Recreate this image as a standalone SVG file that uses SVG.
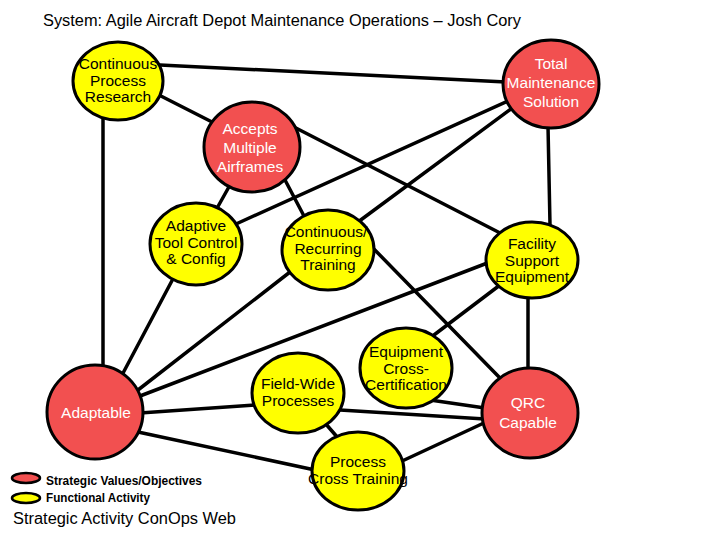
<svg xmlns="http://www.w3.org/2000/svg" width="720" height="540" viewBox="0 0 720 540">
<style>
.edge{stroke:#000;stroke-width:3.5;fill:none;stroke-linecap:round}
.red{fill:#F25050;stroke:#000;stroke-width:3}
.yel{fill:#FFFF00;stroke:#000;stroke-width:3}
.tr{font-family:"Liberation Sans",Arial,sans-serif;font-size:15.5px;fill:#fff;text-anchor:middle}
.ty{font-family:"Liberation Sans",Arial,sans-serif;font-size:15.5px;fill:#000;text-anchor:middle}
.title{font-family:"Liberation Sans Narrow","Liberation Sans",Arial,sans-serif;font-size:16px;fill:#000}
.leg{font-family:"Liberation Sans Narrow","Liberation Sans",Arial,sans-serif;font-size:12px;font-weight:bold;fill:#000}
.foot{font-family:"Liberation Sans",Arial,sans-serif;font-size:16px;fill:#000}
</style>
<rect width="720" height="540" fill="#fff"/>
<text class="title" x="43" y="26" textLength="478" lengthAdjust="spacingAndGlyphs">System: Agile Aircraft Depot Maintenance Operations – Josh Cory</text>

<g id="connectors">
<line class="edge" x1="160" y1="65" x2="506" y2="82"/>
<line class="edge" x1="155" y1="93" x2="214" y2="123"/>
<line class="edge" x1="103" y1="118" x2="103" y2="368"/>
<line class="edge" x1="510" y1="100" x2="236" y2="224"/>
<line class="edge" x1="515" y1="106" x2="358" y2="222"/>
<line class="edge" x1="548" y1="126" x2="550" y2="225"/>
<line class="edge" x1="230" y1="185" x2="216" y2="210"/>
<line class="edge" x1="285" y1="180" x2="304" y2="216"/>
<line class="edge" x1="292" y1="126" x2="504" y2="235"/>
<line class="edge" x1="175" y1="275" x2="122" y2="375"/>
<line class="edge" x1="290" y1="272" x2="138" y2="390"/>
<line class="edge" x1="370" y1="245" x2="500" y2="378"/>
<line class="edge" x1="490" y1="262" x2="140" y2="396"/>
<line class="edge" x1="500" y1="285" x2="430" y2="338"/>
<line class="edge" x1="528" y1="296" x2="528" y2="370"/>
<line class="edge" x1="430" y1="400" x2="485" y2="408"/>
<line class="edge" x1="255" y1="405" x2="140" y2="413"/>
<line class="edge" x1="340" y1="410" x2="485" y2="419"/>
<line class="edge" x1="325" y1="423" x2="338" y2="438"/>
<line class="edge" x1="315" y1="470" x2="138" y2="432"/>
<line class="edge" x1="400" y1="462" x2="486" y2="422"/>
</g>

<g id="cpr">
<ellipse class="yel" cx="118" cy="81" rx="45" ry="39"/>
<text class="ty" x="118" y="69">Continuous</text>
<text class="ty" x="118" y="86">Process</text>
<text class="ty" x="118" y="102">Research</text>
</g>
<g id="tms">
<ellipse class="red" cx="551" cy="84" rx="48" ry="44"/>
<text class="tr" x="551" y="69">Total</text>
<text class="tr" x="551" y="88">Maintenance</text>
<text class="tr" x="551" y="107">Solution</text>
</g>
<g id="accepts">
<ellipse class="red" cx="252" cy="147" rx="48" ry="45"/>
<text class="tr" x="250" y="134">Accepts</text>
<text class="tr" x="250" y="153">Multiple</text>
<text class="tr" x="250" y="172">Airframes</text>
</g>
<g id="adaptive">
<ellipse class="yel" cx="196" cy="244" rx="46" ry="41"/>
<text class="ty" x="196" y="231">Adaptive</text>
<text class="ty" x="196" y="248">Tool Control</text>
<text class="ty" x="196" y="264">&amp; Config</text>
</g>
<g id="crt">
<ellipse class="yel" cx="328" cy="250" rx="46" ry="40"/>
<text class="ty" x="326" y="237">Continuous/</text>
<text class="ty" x="328" y="254">Recurring</text>
<text class="ty" x="328" y="270">Training</text>
</g>
<g id="fse">
<ellipse class="yel" cx="532" cy="260" rx="46" ry="38"/>
<text class="ty" x="532" y="249">Facility</text>
<text class="ty" x="532" y="266">Support</text>
<text class="ty" x="532" y="282">Equipment</text>
</g>
<g id="ecc">
<ellipse class="yel" cx="406" cy="368" rx="46" ry="40"/>
<text class="ty" x="406" y="357">Equipment</text>
<text class="ty" x="406" y="374">Cross-</text>
<text class="ty" x="406" y="390">Certification</text>
</g>
<g id="fwp">
<ellipse class="yel" cx="298" cy="393" rx="46" ry="40"/>
<text class="ty" x="298" y="389">Field-Wide</text>
<text class="ty" x="298" y="406">Processes</text>
</g>
<g id="pct">
<ellipse class="yel" cx="358" cy="471" rx="46" ry="39"/>
<text class="ty" x="358" y="467">Process</text>
<text class="ty" x="358" y="484">Cross Training</text>
</g>
<g id="adaptable">
<ellipse class="red" cx="95" cy="412" rx="48" ry="47"/>
<text class="tr" x="96" y="418">Adaptable</text>
</g>
<g id="qrc">
<ellipse class="red" cx="530" cy="413" rx="48" ry="45"/>
<text class="tr" x="528" y="408">QRC</text>
<text class="tr" x="528" y="428">Capable</text>
</g>

<g id="legend">
<ellipse cx="26" cy="478" rx="14" ry="5" fill="#F25050" stroke="#000" stroke-width="2.5"/>
<ellipse cx="26" cy="498" rx="14" ry="5" fill="#FFFF00" stroke="#000" stroke-width="2.5"/>
<text class="leg" x="46" y="485" textLength="156" lengthAdjust="spacingAndGlyphs">Strategic Values/Objectives</text>
<text class="leg" x="46" y="502" textLength="104" lengthAdjust="spacingAndGlyphs">Functional Activity</text>
<text class="foot" x="13" y="524" textLength="223" lengthAdjust="spacingAndGlyphs">Strategic Activity ConOps Web</text>
</g>
</svg>
